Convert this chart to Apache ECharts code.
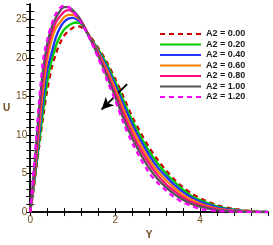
<!DOCTYPE html>
<html><head><meta charset="utf-8">
<script src="https://cdn.jsdelivr.net/npm/echarts@6/dist/echarts.min.js"></script>
<style>html,body{margin:0;padding:0;background:#fff}#c{width:273px;height:245px}</style>
</head><body><div id="c"></div>
<script>
const yGrid = [0,0.1,0.2,0.3,0.4,0.5,0.6,0.7,0.8,0.9,1.0,1.1,1.2,1.4,1.6,1.8,2.0,2.2,2.4,2.6,2.8,3.0,3.2,3.4,3.6,3.8,4.0,4.4,4.8,5.2,5.6];
const names = ['A2 = 0.00','A2 = 0.20','A2 = 0.40','A2 = 0.60','A2 = 0.80','A2 = 1.00','A2 = 1.20'];
const u000 = [0,3.8,8.1,12.2,15.8,18.6,20.5,21.9,22.9,23.5,23.9,24.1,24.0,22.9,21.3,19.5,17.3,14.9,12.4,10.3,8.4,6.8,5.4,4.2,3.2,2.4,1.8,0.9,0.4,0.15,0.03];
const u020 = [0,4.0,8.6,13.0,16.9,19.6,21.5,22.8,23.7,24.2,24.5,24.6,24.4,22.8,21.1,19.2,16.9,14.4,11.9,9.8,7.9,6.3,5.0,3.9,2.9,2.1,1.55,0.75,0.32,0.1,0.02];
const u040 = [0,4.4,9.5,14.4,18.4,20.6,22.6,23.9,24.7,25.1,25.2,25.0,24.6,22.7,20.9,18.9,16.5,13.9,11.4,9.3,7.4,5.8,4.6,3.5,2.6,1.9,1.35,0.6,0.25,0.08,0.01];
const u060 = [0,4.8,10.5,15.8,19.8,22.3,23.9,24.6,25.3,25.6,25.6,25.3,24.7,22.7,20.7,18.5,16.0,13.3,10.8,8.7,6.8,5.3,4.1,3.1,2.2,1.6,1.1,0.45,0.18,0.05,0];
const u080 = [0,5.3,11.6,17.2,20.9,23.2,24.6,25.4,26.0,26.2,26.0,25.5,24.8,22.7,20.5,18.1,15.5,12.7,10.2,8.1,6.3,4.8,3.6,2.7,1.9,1.3,0.9,0.35,0.12,0.03,0];
const u100 = [0,6.0,12.8,18.4,21.8,23.9,25.2,26.1,26.6,26.6,26.2,25.6,24.8,22.6,20.3,17.7,15.0,12.1,9.6,7.5,5.7,4.3,3.2,2.3,1.6,1.05,0.7,0.25,0.08,0.02,0];
const u120 = [0,6.8,13.8,19.6,22.4,24.3,25.7,26.5,26.8,26.6,26.1,25.4,24.6,22.5,20.0,17.2,14.5,11.5,9.0,6.9,5.1,3.8,2.8,1.9,1.25,0.8,0.4,0.15,0.05,0,0];
const colors = ['#cc0000','#00cc00','#2233ff','#ff8000','#ff0a80','#555555','#ff00ff'];
const dashed = [true,false,false,false,false,false,true];
const xTicks = [0,2,4];
const arrowFrom = [2.28,16.6];
const arrowTo = [1.68,13.3];

const allU = [u000,u020,u040,u060,u080,u100,u120];
const labelColor = '#6e4a1c';
const series = allU.map((arr,i)=>({
  name: names[i], type:'line', smooth:0.3, symbol:'none', showSymbol:false,
  data: yGrid.map((x,k)=>[x,arr[k]]),
  lineStyle:{color:colors[i],width:2.3,type: dashed[i]?[5,4]:'solid'},
  itemStyle:{color:colors[i]}, z: 2+i
}));
series.push({
  type:'line', data:[], symbol:'none', silent:true,
  markLine:{silent:true, symbol:['none','arrow'], symbolSize:[9,12],
    label:{show:false}, lineStyle:{color:'#000',width:2,type:'solid'},
    data:[[{coord:arrowFrom},{coord:arrowTo}]]}, z:20
});
const tickStyle = {show:true, inside:true, length:4, lineStyle:{color:'#000',width:1}};
const chart = echarts.init(document.getElementById('c'),null,{renderer:'canvas'});
chart.setOption({
  animation:false,
  grid:{left:27,right:5,top:4,bottom:22,containLabel:false},
  legend:{orient:'vertical',left:159,top:29,itemWidth:41,itemHeight:10,itemGap:0.5,padding:0,
    itemStyle:{opacity:0,borderWidth:0},
    data:names, textStyle:{fontSize:9,fontWeight:'bold',color:'#1a1a1a',fontFamily:'Liberation Sans, Arial',lineHeight:10}},
  xAxis:[{type:'value',min:0,max:5.6,interval:0.4,name:'Y',nameLocation:'middle',nameGap:13,
    nameTextStyle:{fontSize:10,fontWeight:'bold',color:labelColor,fontFamily:'Liberation Sans, Arial'},
    axisLine:{lineStyle:{color:'#000',width:1.5}},axisTick:tickStyle,splitLine:{show:false},
    axisLabel:{fontSize:10,color:labelColor,fontFamily:'Liberation Sans, Arial',margin:3,showMaxLabel:false,
      formatter:v=>{const r=Math.round(v);return (Math.abs(v-r)<1e-6 && xTicks.indexOf(r)>=0)?String(r):'';}}},
    {type:'value',position:'top',min:0,max:5.6,interval:0.4,axisLine:{lineStyle:{color:'#000',width:1.5}},
     axisTick:tickStyle,axisLabel:{show:false},splitLine:{show:false}}],
  yAxis:[{type:'value',min:0,max:27,interval:1,name:'U',nameLocation:'middle',nameGap:18,nameRotate:0,
    nameTextStyle:{fontSize:10,fontWeight:'bold',color:labelColor,fontFamily:'Liberation Sans, Arial'},
    axisLine:{lineStyle:{color:'#000',width:1.5}},axisTick:tickStyle,splitLine:{show:false},
    axisLabel:{fontSize:10,color:labelColor,fontFamily:'Liberation Sans, Arial',margin:3,showMaxLabel:false,
      formatter:v=>(Math.round(v)%5===0?String(Math.round(v)):'')}},
    {type:'value',position:'right',min:0,max:27,interval:1,axisLine:{lineStyle:{color:'#000',width:1.5}},
     axisTick:tickStyle,axisLabel:{show:false},splitLine:{show:false}}],
  series: series
});
</script></body></html>
